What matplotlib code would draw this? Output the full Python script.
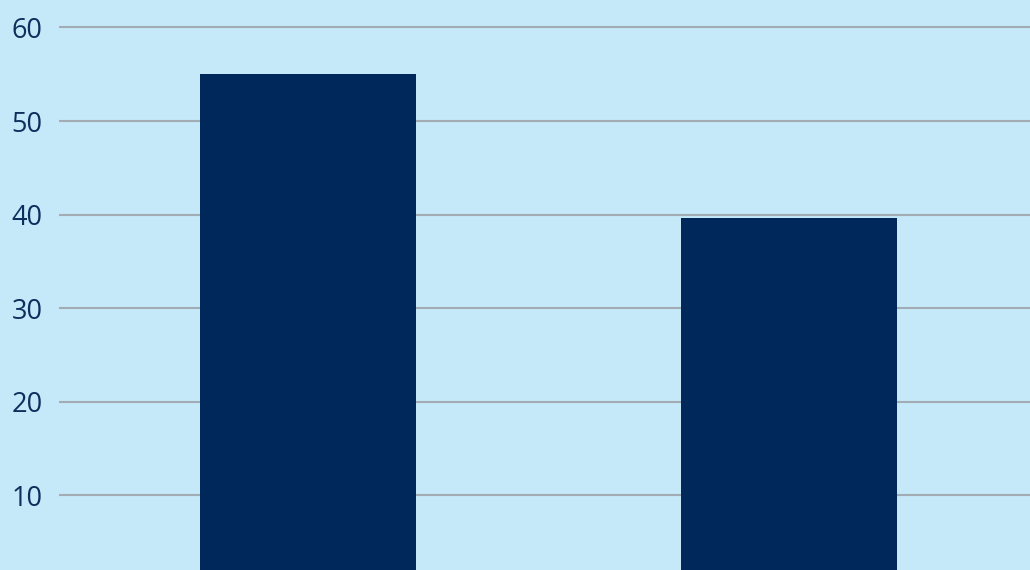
import matplotlib.pyplot as plt

# Two-category bar chart on a pale blue panel
categories = ["A", "B"]
values = [55.0, 39.6]
y_ticks = [10, 20, 30, 40, 50, 60]

BG = "#c5e9f8"
BAR = "#00285a"
TEXT = "#0d2f5e"
GRID = "#a3acb4"

plt.rcParams["font.family"] = ["Open Sans", "DejaVu Sans"]

fig = plt.figure(figsize=(10.30, 5.70), dpi=100, facecolor=BG)
ax = fig.add_axes([59 / 1030, 0, 971 / 1030, 1])
ax.set_facecolor(BG)

x = list(range(len(categories)))
ax.bar(x, values, width=0.45, color=BAR, zorder=3)

ax.set_xlim(-0.518, 1.501)
ax.set_ylim(2.0, 62.94)
ax.set_yticks(y_ticks)
ax.set_yticklabels([str(t) for t in y_ticks])
ax.set_xticks([])
ax.yaxis.grid(True, color=GRID, lw=1.5, zorder=1)
ax.tick_params(axis="y", length=0, pad=12, labelsize=19.5, labelcolor=TEXT)
for s in ax.spines.values():
    s.set_visible(False)

fig.savefig("out.png", dpi=100, facecolor=BG)
